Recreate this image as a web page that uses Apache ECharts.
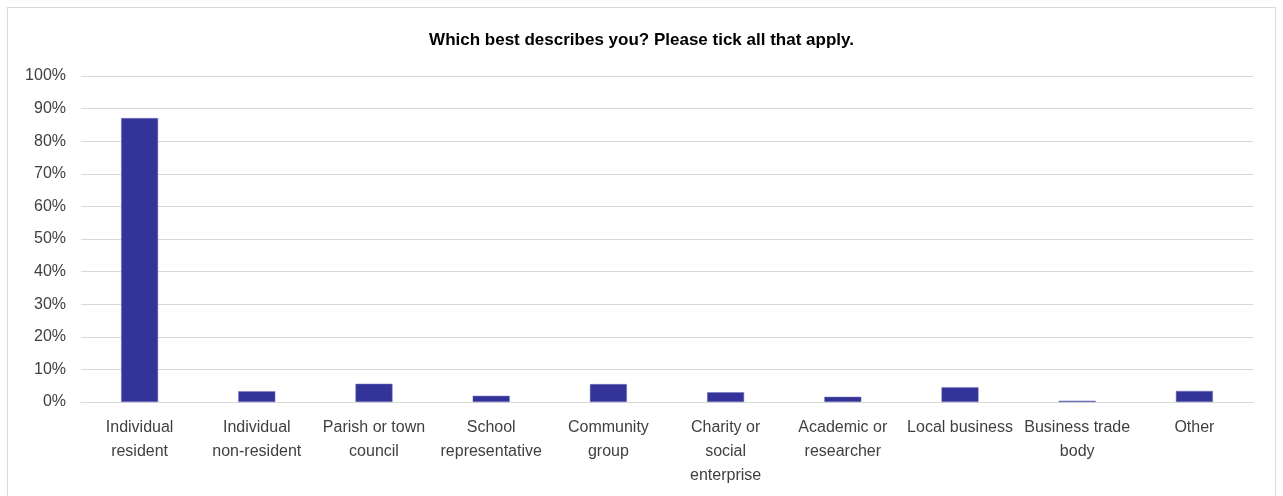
<!DOCTYPE html>
<html>
<head>
<meta charset="utf-8">
<style>
  html, body { margin: 0; padding: 0; background: #fff; }
  #frame { position: absolute; left: 7px; top: 7px; width: 1269px; height: 500px; border: 1px solid #d9d9d9; box-sizing: border-box; }
  #chart { position: absolute; left: 0; top: 0; width: 1283px; height: 496px; }
</style>
<script src="https://cdn.jsdelivr.net/npm/echarts@6/dist/echarts.min.js"></script>
</head>
<body>
<div id="frame"></div>
<div id="chart"></div>
<script>
// Survey answers: share of respondents in each group
const categories = [
  'Individual\nresident',
  'Individual\nnon-resident',
  'Parish or town\ncouncil',
  'School\nrepresentative',
  'Community\ngroup',
  'Charity or\nsocial\nenterprise',
  'Academic or\nresearcher',
  'Local business',
  'Business trade\nbody',
  'Other'
];
const shares = [87.1, 3.3, 5.6, 1.9, 5.5, 3.0, 1.6, 4.5, 0.4, 3.4];
const yTicks = [0, 10, 20, 30, 40, 50, 60, 70, 80, 90, 100];

const font = '"Liberation Sans", Arial, sans-serif';
const chart = echarts.init(document.getElementById('chart'), null, { renderer: 'canvas' });
chart.setOption({
  animation: false,
  title: {
    text: 'Which best describes you? Please tick all that apply.',
    left: 'center',
    top: 27,
    textStyle: { fontFamily: font, fontSize: 17, fontWeight: 'bold', color: '#000' }
  },
  grid: { left: 81, right: 30, top: 76, bottom: 94, containLabel: false },
  xAxis: {
    type: 'category',
    data: categories,
    axisTick: { show: false },
    axisLine: { lineStyle: { color: '#d9d9d9' } },
    axisLabel: {
      interval: 0,
      margin: 14,
      fontFamily: font,
      fontSize: 16,
      lineHeight: 24,
      color: '#404040'
    }
  },
  yAxis: {
    type: 'value',
    min: yTicks[0],
    max: yTicks[yTicks.length - 1],
    interval: 10,
    axisLine: { show: false },
    axisTick: { show: false },
    splitLine: { lineStyle: { color: '#d9d9d9' } },
    axisLabel: {
      margin: 15,
      fontFamily: font,
      fontSize: 16,
      color: '#404040',
      formatter: v => v + '%'
    }
  },
  series: [{
    type: 'bar',
    data: shares,
    barWidth: 37,
    itemStyle: { color: '#333399', borderColor: '#7777bb', borderWidth: 0.5 }
  }]
});
</script>
</body>
</html>
